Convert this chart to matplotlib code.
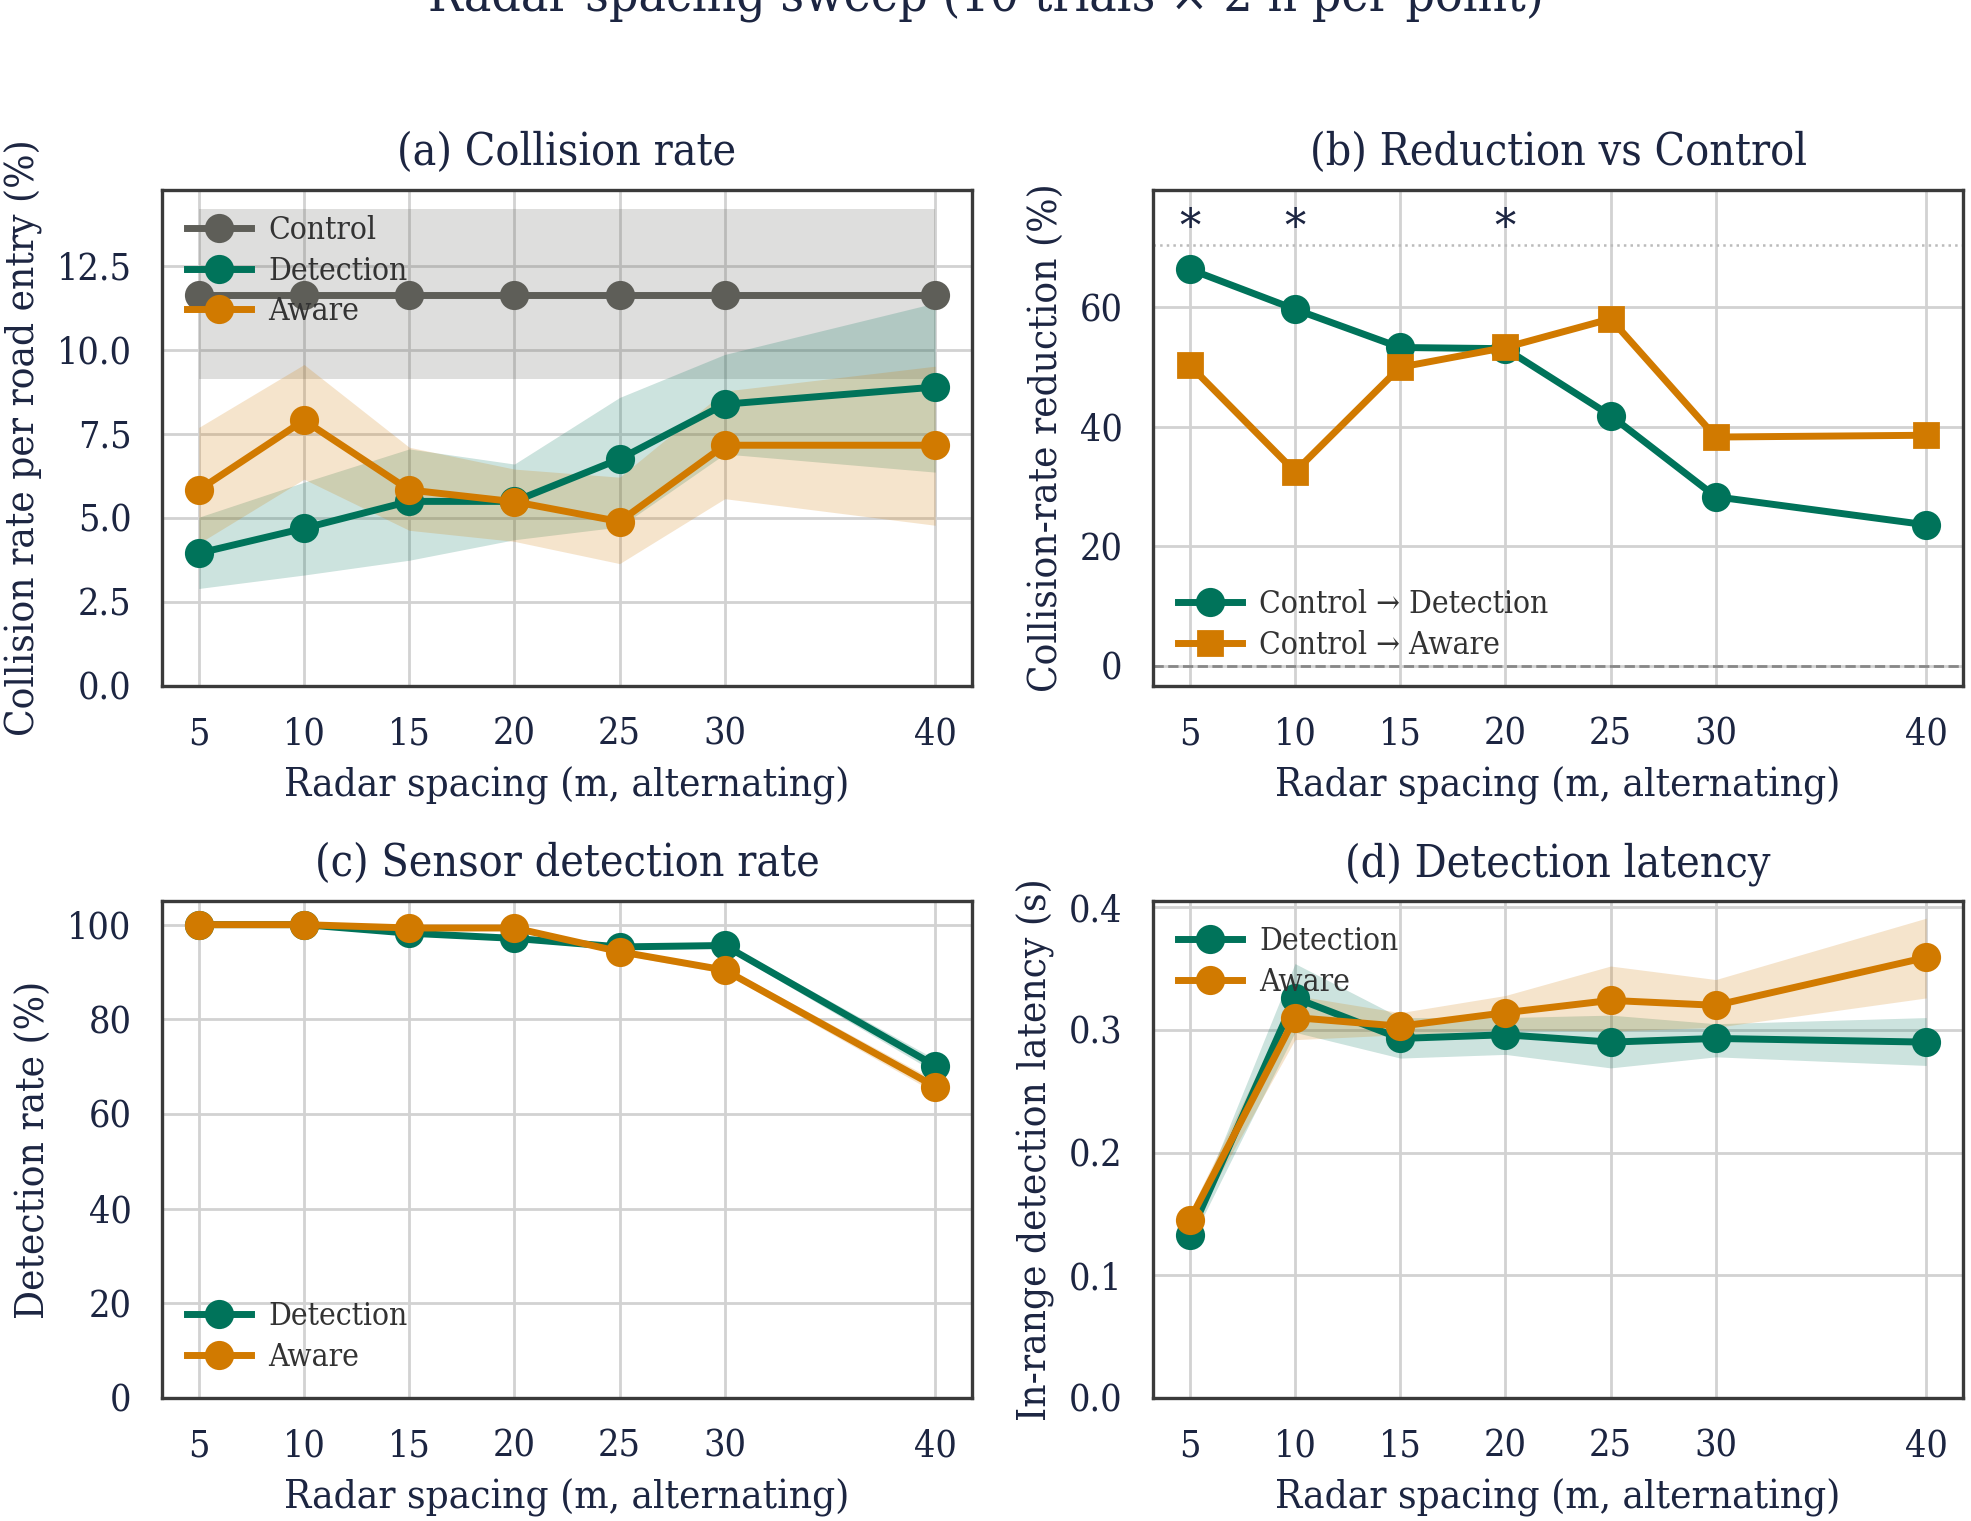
"""Radar spacing sweep: collision rate, reduction, detection rate and latency"""
import matplotlib
matplotlib.use("Agg")
import matplotlib.pyplot as plt

spacing = [5, 10, 15, 20, 25, 30, 40]

# (a) collision rate per road entry (%)
control_rate = [11.64] * 7
control_lo = [9.12] * 7
control_hi = [14.18] * 7
det_rate = [3.95, 4.69, 5.49, 5.49, 6.75, 8.38, 8.89]
det_rate_lo = [2.90, 3.30, 3.74, 4.35, 4.73, 6.90, 6.36]
det_rate_hi = [5.02, 6.06, 7.05, 6.60, 8.58, 9.86, 11.39]
aware_rate = [5.83, 7.90, 5.83, 5.48, 4.89, 7.16, 7.16]
aware_rate_lo = [4.24, 6.15, 4.63, 4.30, 3.64, 5.57, 4.78]
aware_rate_hi = [7.69, 9.56, 7.10, 6.45, 6.21, 8.77, 9.51]

# (b) reduction vs control (%)
red_det = [66.4, 59.7, 53.3, 53.1, 41.9, 28.3, 23.6]
red_aware = [50.3, 32.5, 50.0, 53.3, 58.1, 38.3, 38.6]
significant = [5, 10, 20]

# (c) sensor detection rate (%)
det_detect = [100.0, 100.0, 98.2, 97.1, 95.3, 95.6, 70.2]
det_detect_lo = [100.0, 99.8, 97.7, 96.6, 94.7, 95.0, 68.8]
det_detect_hi = [100.0, 100.0, 98.7, 97.6, 95.9, 96.2, 71.6]
aware_detect = [100.0, 100.0, 99.3, 99.3, 94.3, 90.4, 65.8]
aware_detect_lo = [100.0, 99.8, 98.9, 98.9, 93.7, 89.7, 64.5]
aware_detect_hi = [100.0, 100.0, 99.7, 99.7, 94.9, 91.1, 67.1]

# (d) in-range detection latency (s)
det_lat = [0.133, 0.326, 0.293, 0.296, 0.290, 0.293, 0.290]
det_lat_lo = [0.126, 0.298, 0.277, 0.280, 0.269, 0.278, 0.271]
det_lat_hi = [0.142, 0.354, 0.310, 0.310, 0.312, 0.305, 0.310]
aware_lat = [0.145, 0.310, 0.303, 0.314, 0.324, 0.320, 0.359]
aware_lat_lo = [0.138, 0.292, 0.296, 0.300, 0.299, 0.302, 0.326]
aware_lat_hi = [0.152, 0.328, 0.314, 0.328, 0.352, 0.341, 0.391]

GREEN = "#00735A"
ORANGE = "#D17A00"
GRAY = "#5E5E58"
TEXT = "#1c2541"

plt.rcParams.update({
    "font.family": ["DejaVu Serif"],
    "font.stretch": "condensed",
    "text.color": TEXT,
    "axes.labelcolor": TEXT,
    "xtick.color": TEXT,
    "ytick.color": TEXT,
    "axes.edgecolor": "#3a3a3a",
    "axes.linewidth": 1.2,
    "grid.color": "#d2d2d2",
    "grid.linewidth": 1.0,
    "xtick.major.size": 0,
    "ytick.major.size": 0,
    "xtick.major.pad": 11,
    "ytick.major.pad": 11,
})

TITLE_FS = 16
LABEL_FS = 14.5
TICK_FS = 13.5
LEGEND_FS = 11.4
LW = 2.5
MS = 9.5


def style_axes(ax, title, ylabel):
    ax.set_title(title, fontsize=TITLE_FS, pad=9)
    ax.set_xlabel("Radar spacing (m, alternating)", fontsize=LABEL_FS,
                  labelpad=5)
    ax.set_ylabel(ylabel, fontsize=LABEL_FS, labelpad=5)
    ax.set_xticks(spacing)
    ax.set_xlim(3.25, 41.75)
    ax.tick_params(labelsize=TICK_FS)
    ax.grid(True)
    ax.set_axisbelow(True)


def band_line(ax, y, lo, hi, color, label, marker="o"):
    ax.fill_between(spacing, lo, hi, color=color, alpha=0.2, lw=0)
    ax.plot(spacing, y, color=color, lw=LW, marker=marker, ms=MS, label=label)


def add_legend(ax, loc):
    leg = ax.legend(loc=loc, frameon=False, fontsize=LEGEND_FS,
                    handlelength=2.0, handletextpad=0.55,
                    borderaxespad=0.4, labelspacing=0.3)
    for t in leg.get_texts():
        t.set_color("#333333")


fig = plt.figure(figsize=(9.855, 7.605), dpi=200)
W, H = 1971.0, 1521.0


def rect(left, top, right, bottom):
    return [left / W, 1 - bottom / H, (right - left) / W, (bottom - top) / H]


ax_a = fig.add_axes(rect(162, 190, 972, 686))
ax_b = fig.add_axes(rect(1153, 190, 1963, 686))
ax_c = fig.add_axes(rect(162, 901, 972, 1398))
ax_d = fig.add_axes(rect(1153, 901, 1963, 1398))

# (a) Collision rate
band_line(ax_a, control_rate, control_lo, control_hi, GRAY, "Control")
band_line(ax_a, det_rate, det_rate_lo, det_rate_hi, GREEN, "Detection")
band_line(ax_a, aware_rate, aware_rate_lo, aware_rate_hi, ORANGE, "Aware")
ax_a.set_ylim(0, 14.75)
ax_a.set_yticks([0, 2.5, 5.0, 7.5, 10.0, 12.5])
ax_a.set_yticklabels(["0.0", "2.5", "5.0", "7.5", "10.0", "12.5"])
style_axes(ax_a, "(a) Collision rate", "Collision rate per road entry (%)")
add_legend(ax_a, "upper left")

# (b) Reduction vs Control
ax_b.axhline(0, color="#888888", ls="--", lw=1.0, zorder=1)
top = max(red_det)
ax_b.axhline(top * 1.06, color="#bbbbbb", ls=":", lw=0.9, zorder=1)
ax_b.plot(spacing, red_det, color=GREEN, lw=LW, marker="o", ms=MS,
          label="Control \u2192 Detection")
ax_b.plot(spacing, red_aware, color=ORANGE, lw=LW, marker="s", ms=8.3,
          label="Control \u2192 Aware")
for x in significant:
    ax_b.text(x, top * 1.1, "*", ha="center", va="center", fontsize=17,
              color=TEXT)
ax_b.set_ylim(-3.4, top * 1.2)
ax_b.set_yticks([0, 20, 40, 60])
style_axes(ax_b, "(b) Reduction vs Control", "Collision-rate reduction (%)")
add_legend(ax_b, "lower left")

# (c) Sensor detection rate
band_line(ax_c, det_detect, det_detect_lo, det_detect_hi, GREEN, "Detection")
band_line(ax_c, aware_detect, aware_detect_lo, aware_detect_hi, ORANGE, "Aware")
ax_c.set_ylim(0, 105)
ax_c.set_yticks([0, 20, 40, 60, 80, 100])
style_axes(ax_c, "(c) Sensor detection rate", "Detection rate (%)")
add_legend(ax_c, "lower left")

# (d) Detection latency
band_line(ax_d, det_lat, det_lat_lo, det_lat_hi, GREEN, "Detection")
band_line(ax_d, aware_lat, aware_lat_lo, aware_lat_hi, ORANGE, "Aware")
ax_d.set_ylim(0, 0.405)
ax_d.set_yticks([0.0, 0.1, 0.2, 0.3, 0.4])
ax_d.set_yticklabels(["0.0", "0.1", "0.2", "0.3", "0.4"])
style_axes(ax_d, "(d) Detection latency", "In-range detection latency (s)")
add_legend(ax_d, "upper left")

# suptitle sits partly outside the canvas, as in the source image
fig.text(0.5, 1 - 10 / H, "Radar spacing sweep (10 trials \u00d7 2 h per point)",
         ha="center", va="baseline", fontsize=18.5)

fig.savefig("out.png", dpi=200)
